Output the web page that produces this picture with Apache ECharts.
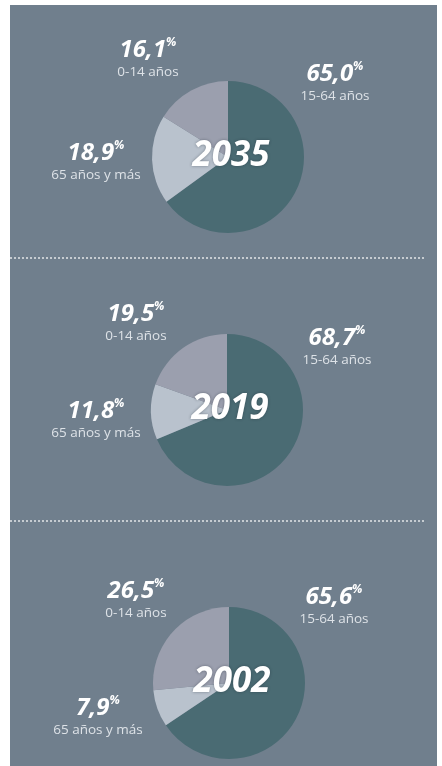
<!DOCTYPE html>
<html>
<head>
<meta charset="utf-8">
<title>Estructura de la población por edad</title>
<script src="https://cdn.jsdelivr.net/npm/echarts@6/dist/echarts.min.js"></script>
<style>
  html, body { margin: 0; padding: 0; background: #ffffff; }
  #chart { width: 442px; height: 766px; }
</style>
</head>
<body>
<div id="chart"></div>
<script>
// Age groups, in clockwise order starting at twelve o'clock
const groups = ['15-64 años', '65 años y más', '0-14 años'];
const years = ['2035', '2019', '2002'];
// Population share (%) per age group
const share2035 = [65.0, 18.9, 16.1];
const share2019 = [68.7, 11.8, 19.5];
const share2002 = [65.6, 7.9, 26.5];
const shares = [share2035, share2019, share2002];

const sliceColors = ['#4a6b73', '#b9c2cd', '#9b9fae'];
const panelColor = '#707f8d';
const FONT = '"Open Sans", "Noto Sans", sans-serif';

// Layout: pie centres and label anchors per panel (pixels)
const R = 76;
const pieCenters = [[228, 157], [227, 410], [229, 683]];
const labelAnchors = [
  [[335, 83], [96, 162], [148, 59]],
  [[337, 347], [96, 420], [136, 323]],
  [[334, 606], [98, 717], [136, 600]]
];

const fmt = v => v.toFixed(1).replace('.', ',');

const chart = echarts.init(document.getElementById('chart'), null, { renderer: 'canvas' });

const series = shares.map((vals, si) => ({
  type: 'pie',
  center: pieCenters[si],
  radius: R,
  startAngle: 90,
  clockwise: true,
  avoidLabelOverlap: false,
  silent: true,
  animation: false,
  emphasis: { disabled: true },
  itemStyle: { borderWidth: 0 },
  labelLine: { show: false },
  label: {
    show: true,
    position: 'outside',
    formatter: p => '{v|' + fmt(p.value) + '}{p|%}\n{n|' + p.name + '}',
    rich: {
      v: { fontFamily: FONT, fontStyle: 'italic', fontWeight: 700, fontSize: 24, color: '#ffffff', lineHeight: 27 },
      p: { fontFamily: FONT, fontStyle: 'italic', fontWeight: 700, fontSize: 12, color: '#ffffff', lineHeight: 27, verticalAlign: 'top' },
      n: { fontFamily: FONT, fontSize: 13.5, color: '#dde2e7', lineHeight: 18 }
    }
  },
  labelLayout: params => {
    const a = labelAnchors[si][params.dataIndex];
    return { x: a[0], y: a[1], align: 'center', verticalAlign: 'middle' };
  },
  data: groups.map((g, i) => ({ name: g, value: vals[i], itemStyle: { color: sliceColors[i] } }))
}));

const graphics = [
  { type: 'rect', z: -10, shape: { x: 10, y: 5, width: 427, height: 761 }, style: { fill: panelColor } },
  { type: 'line', z: 1, shape: { x1: 10, y1: 258, x2: 425, y2: 258 }, style: { stroke: 'rgba(255,255,255,0.8)', lineWidth: 1.5, lineDash: [2, 2] } },
  { type: 'line', z: 1, shape: { x1: 10, y1: 521, x2: 425, y2: 521 }, style: { stroke: 'rgba(255,255,255,0.8)', lineWidth: 1.5, lineDash: [2, 2] } }
].concat(years.map((y, i) => ({
  type: 'text',
  z: 100,
  x: pieCenters[i][0] + 3,
  y: pieCenters[i][1] - 1,
  style: {
    text: y,
    fontFamily: FONT,
    fontStyle: 'italic',
    fontWeight: 700,
    fontSize: 35,
    fill: '#ffffff',
    align: 'center',
    verticalAlign: 'middle',
    textShadowColor: 'rgba(30,40,50,0.45)',
    textShadowBlur: 3
  }
})));

chart.setOption({
  backgroundColor: '#ffffff',
  animation: false,
  graphic: { elements: graphics },
  series: series
});
</script>
</body>
</html>
